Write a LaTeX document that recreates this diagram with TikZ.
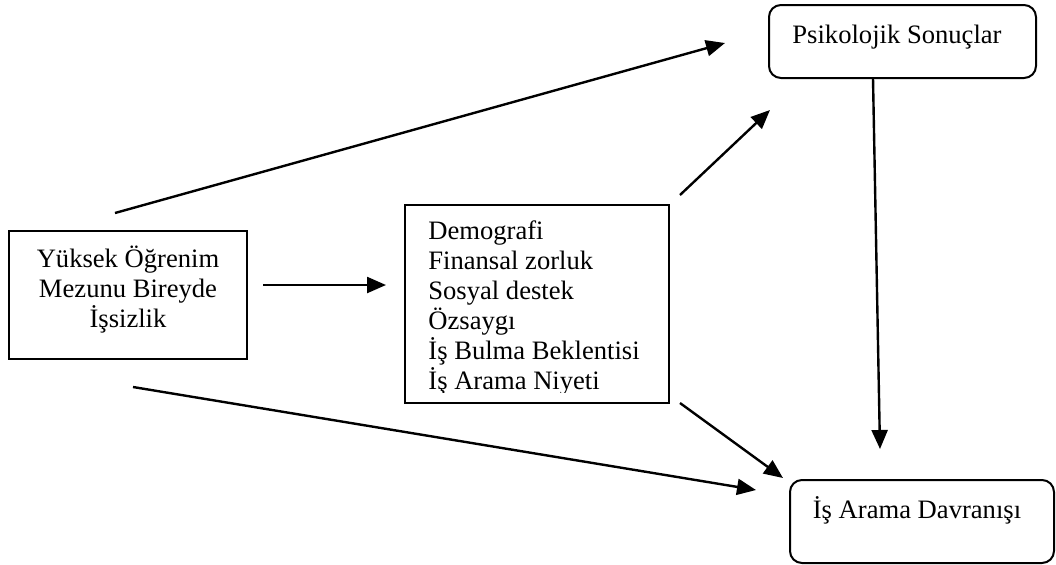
\documentclass[tikz,border=0pt]{standalone}
\usepackage{fontspec}
\setmainfont{Liberation Serif}
\usetikzlibrary{arrows.meta}
\begin{document}
\begin{tikzpicture}[x=0.5pt,y=-0.5pt,
  font=\fontsize{13.3}{15}\selectfont,
  sqbox/.style={draw, line width=1pt, inner sep=0pt},
  rbox/.style={draw, line width=1pt, inner sep=0pt, rounded corners=6pt},
  txt/.style={inner sep=0pt, anchor=base},
  txtl/.style={inner sep=0pt, anchor=base west},
  arr/.style={line width=1.2pt, -{Triangle[length=9.5pt,width=8pt]}}
]
\useasboundingbox (0,0) rectangle (1056,564);
% boxes
\node[sqbox, minimum width=119pt, minimum height=64pt] (L) at (128,295) {};
\node[sqbox, minimum width=132pt, minimum height=99pt] (M) at (537,304) {};
\node[rbox, minimum width=133.5pt, minimum height=36.5pt] (P) at (902.5,41.5) {};
\node[rbox, minimum width=132pt, minimum height=41.5pt] (D) at (922,521.5) {};
% texts
\node[txt] (l1) at (128,267) {Yüksek Öğrenim};
\node[txt] (l2) at (128,297) {Mezunu Bireyde};
\node[txt] (l3) at (128,327) {İşsizlik};
\node[txt] (p1) at (897,43) {Psikolojik Sonuçlar};
\node[txt] (d1) at (917,518) {İş Arama Davranışı};
\begin{scope}
\clip (405,205) rectangle (669,392.5);
\node[txtl] (m1) at (428,239) {Demografi};
\node[txtl] (m2) at (428,269) {Finansal zorluk};
\node[txtl] (m3) at (428,299) {Sosyal destek};
\node[txtl] (m4) at (428,329) {Özsaygı};
\node[txtl] (m5) at (428,359) {İş Bulma Beklentisi};
\node[txtl] (m6) at (428,389) {İş Arama Niyeti};
\end{scope}
% connector end points
\coordinate (a1s) at (115,213);
\coordinate (a1e) at (725,43);
\coordinate (a2s) at (263,285);
\coordinate (a2e) at (386,285);
\coordinate (a3s) at (680,195);
\coordinate (a3e) at (770,110);
\coordinate (a4s) at (680,403);
\coordinate (a4e) at (783,478);
\coordinate (a5s) at (133,387);
\coordinate (a5e) at (756,490);
\coordinate (a6s) at (873,78);
\coordinate (a6e) at (880,449);
\draw[arr] (a1s) -- (a1e);
\draw[arr] (a2s) -- (a2e);
\draw[arr] (a3s) -- (a3e);
\draw[arr] (a4s) -- (a4e);
\draw[arr] (a5s) -- (a5e);
\draw[arr] (a6s) -- (a6e);
\end{tikzpicture}
\end{document}
